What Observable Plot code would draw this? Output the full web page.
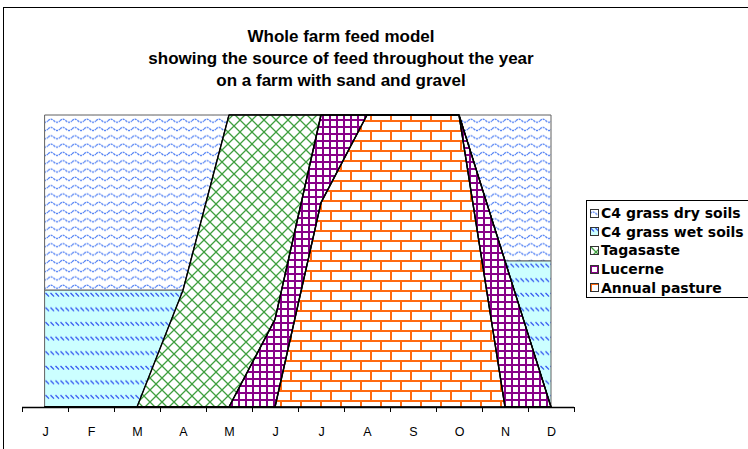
<!DOCTYPE html>
<html><head><meta charset="utf-8">
<script src="https://cdn.jsdelivr.net/npm/d3@7"></script>
<script src="https://cdn.jsdelivr.net/npm/@observablehq/plot@0.6"></script>
<style>
body{margin:0;background:#fff;font-family:"Liberation Sans",Arial,sans-serif;}
#wrap{position:relative;width:748px;height:449px;overflow:hidden;background:#fff;}
#frame{position:absolute;left:3px;top:7px;width:800px;height:500px;border-left:1px solid #000;border-top:1px solid #000;}
#title{position:absolute;left:0;width:682px;top:26px;text-align:center;font-weight:bold;font-size:17px;line-height:22px;color:#000;}
#chart{position:absolute;left:0;top:0;}
#legend{position:absolute;left:586px;top:200px;width:220px;height:98px;border:1px solid #000;background:#fff;box-sizing:border-box;}
.li{position:absolute;left:3px;height:18px;display:flex;align-items:center;font-family:"DejaVu Sans",sans-serif;font-weight:bold;font-size:14px;white-space:nowrap;color:#000;}
.li svg{margin-right:2px;}
</style>
</head><body>
<svg width="0" height="0" style="position:absolute">
 <defs>
  <pattern id="pDry" patternUnits="userSpaceOnUse" width="12" height="8.3">
   <rect width="12" height="8.3" fill="#fff"/>
   <path d="M0,4.5 Q3,1.5 6,4.5 T12,4.5" fill="none" stroke="#5281f4" stroke-width="1.3" stroke-dasharray="2.2,0.8"/>
  </pattern>
  <pattern id="pWet" patternUnits="userSpaceOnUse" width="5" height="14.6">
   <rect width="5" height="14.6" fill="#ccffff"/>
   <line x1="0.5" y1="1" x2="4" y2="4.5" stroke="#2d4ff0" stroke-width="1.3"/>
  </pattern>
  <pattern id="pTag" patternUnits="userSpaceOnUse" width="12" height="12">
   <rect width="12" height="12" fill="#fff"/>
   <path d="M0,0L12,12M12,0L0,12" stroke="#3f9f3f" stroke-width="1.3"/>
  </pattern>
  <pattern id="pLuc" patternUnits="userSpaceOnUse" width="7" height="7">
   <rect width="7" height="7" fill="#fff"/>
   <path d="M0,1H7M1,0V7" stroke="#880088" stroke-width="2"/>
  </pattern>
  <pattern id="pAnn" patternUnits="userSpaceOnUse" width="20" height="20">
   <rect width="20" height="20" fill="#fff"/>
   <path d="M0,1H20M0,11H20M1,1V11M11,11V21" stroke="#ff6a10" stroke-width="2"/>
  </pattern>
 </defs>
</svg>
<div id="wrap">
 <div id="frame"></div>
 <div id="chart"></div>
 <div id="title">Whole farm feed model<br>showing the source of feed throughout the year<br>on a farm with sand and gravel</div>
 <div id="legend"></div>
</div>
<script>
// Data (percent of feed supply by month)
const months = ["J","F","M","A","M","J","J","A","S","O","N","D"];
const series = ["C4 grass dry soils","C4 grass wet soils","Tagasaste","Lucerne","Annual pasture"];
const dry       = [60,60,60,60,0,0,0,0,0,0,50,50];
const wet       = [40,40,40,0,0,0,0,0,0,0,0,50];
const tagasaste = [0,0,0,40,100,70,0,0,0,0,0,0];
const lucerne   = [0,0,0,0,0,30,30,0,0,0,50,0];
const annual    = [0,0,0,0,0,0,70,100,100,100,0,0];
const patterns  = ["url(#pDry)","url(#pWet)","url(#pTag)","url(#pLuc)","url(#pAnn)"];
const stackOrder = ["Annual pasture","Lucerne","Tagasaste","C4 grass wet soils","C4 grass dry soils"];

const valuesBySeries = [dry, wet, tagasaste, lucerne, annual];
const tidy = [];
series.forEach((s, k) => valuesBySeries[k].forEach((v, i) => tidy.push({series: s, i, value: v})));
const isC4 = s => s.startsWith("C4");
const monthIdx = months.map((m, i) => i);
const tickVals = d3.range(-0.5, 12, 1);

const chart = Plot.plot({
  width: 748, height: 449,
  marginLeft: 45, marginRight: 197, marginTop: 115, marginBottom: 42,
  style: {background: "transparent", overflow: "visible", fontFamily: "Liberation Sans, Arial, sans-serif"},
  x: {domain: [0, 11], axis: null},
  y: {domain: [0, 100], axis: null},
  color: {type: "ordinal", domain: series, range: patterns},
  opacity: {type: "identity"},
  marks: [
    Plot.areaY(tidy, {x: "i", y: "value", z: "series", fill: "series", order: stackOrder, stroke: "#606060", strokeWidth: 1}),
    Plot.areaY(tidy, {x: "i", y: "value", z: "series", fill: "none", order: stackOrder, stroke: "#000", strokeWidth: 1.4,
      strokeOpacity: d => isC4(d.series) ? 0 : 1}),
    Plot.ruleY([0], {x1: -0.5, x2: 11.5, stroke: "#000", strokeWidth: 1.3}),
    Plot.ruleX(tickVals, {x: d => d, y1: 0, y2: 0, insetBottom: -5, stroke: "#000"}),
    Plot.text(monthIdx, {x: d => d, y: 0, text: d => months[d], dy: 24, fontSize: 12.5, fill: "#000"})
  ]
});
document.getElementById("chart").appendChild(chart);

// Legend
const leg = document.getElementById("legend");
series.forEach((s, k) => {
  const div = document.createElement("div");
  div.className = "li";
  div.style.top = (3 + k * 18.7) + "px";
  div.innerHTML = `<svg width="9" height="9"><rect x="0.5" y="0.5" width="8" height="8" fill="${patterns[k]}" stroke="#333" stroke-width="1"/></svg>${s}`;
  leg.appendChild(div);
});
</script>
</body></html>
